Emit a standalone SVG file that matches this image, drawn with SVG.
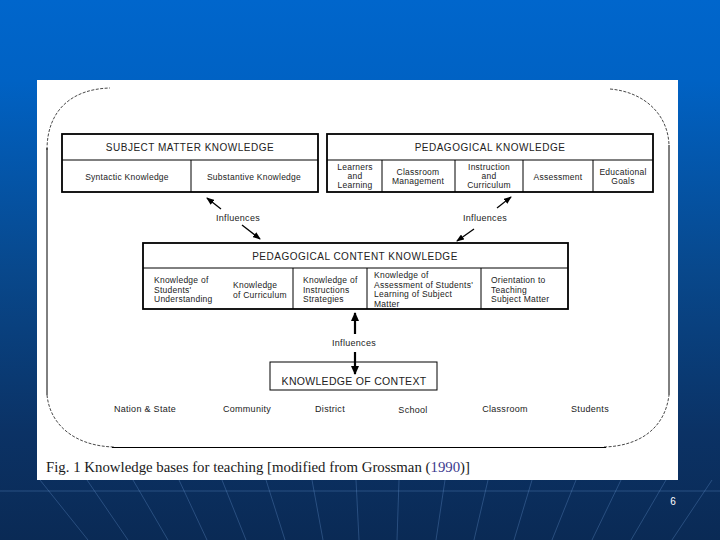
<svg xmlns="http://www.w3.org/2000/svg" width="720" height="540" viewBox="0 0 720 540">
<defs>
<linearGradient id="bg" x1="0" y1="0" x2="0" y2="1">
<stop offset="0" stop-color="#0066cc"/>
<stop offset="0.15" stop-color="#0062c4"/>
<stop offset="0.5" stop-color="#08488c"/>
<stop offset="0.8" stop-color="#0b3265"/>
<stop offset="1" stop-color="#0a2a55"/>
</linearGradient>
<marker id="ah" markerWidth="8" markerHeight="6" refX="7" refY="3" orient="auto" markerUnits="userSpaceOnUse">
<path d="M0,0 L8,3 L0,6 Z" fill="#000"/>
</marker>
<marker id="ahb" markerWidth="9" markerHeight="8" refX="8" refY="4" orient="auto" markerUnits="userSpaceOnUse">
<path d="M0,0 L9,4 L0,8 Z" fill="#000"/>
</marker>
<style>
.box{fill:#fff;stroke:#000;stroke-width:1.8}
.dv{stroke:#000;stroke-width:1;fill:none}
.t{font-family:"Liberation Sans",Arial,sans-serif;fill:#222}
.hd{font-size:10px;letter-spacing:0.5px;text-anchor:middle}
.cl{font-size:8.5px;letter-spacing:0.25px}
.cm{text-anchor:middle}
.lb{font-size:9px;letter-spacing:0.3px;text-anchor:middle}
.arc{fill:none;stroke:#333;stroke-width:0.9;stroke-dasharray:3 1.5}
.edge{fill:none;stroke:#000;stroke-width:1}
.con{stroke:#000;stroke-width:1.3;fill:none}
.conb{stroke:#000;stroke-width:2.2;fill:none}
.grid{stroke:#6fa0dc;stroke-opacity:0.3;stroke-width:1;fill:none}
</style>
</defs>
<rect x="0" y="0" width="720" height="540" fill="url(#bg)"/>
<g id="grid">
<path class="grid" d="M0,491 H720"/>
<path class="grid" d="M40,480 L88,540 M87,480 L128,540 M133,480 L168,540 M179,480 L207,540 M222,480 L246,540 M266,480 L285,540 M312,480 L323,540 M356,480 L359,540 M399,480 L397,540 M445,480 L436,540 M488,480 L474,540 M532,480 L514,540 M576,480 L552,540 M621,480 L592,540 M666,480 L631,540 M712,480 L672,540"/>
</g>
<rect x="37" y="80" width="641" height="400" fill="#fff"/>
<g id="outline">
<path class="arc" d="M47,150 C47,110 72,89 110,88"/>
<path class="arc" d="M610,89 C645,92 668,115 669,145"/>
<path class="edge" d="M47,148 V395"/>
<path class="edge" d="M669,145 V395"/>
<path class="arc" d="M47,395 C50,425 75,446 114,447"/>
<path class="arc" d="M604,447 C640,446 665,428 669,395"/>
<path class="edge" d="M112,447.5 H606"/>
</g>
<g id="subject-matter-knowledge">
<rect class="box" x="62" y="134" width="256" height="58"/>
<path class="dv" d="M62,160 H318 M191,160 V192"/>
<text class="t hd" x="190" y="151">SUBJECT MATTER KNOWLEDGE</text>
<text class="t cl cm" x="127" y="180">Syntactic Knowledge</text>
<text class="t cl cm" x="254" y="180">Substantive Knowledge</text>
</g>
<g id="pedagogical-knowledge">
<rect class="box" x="327" y="134" width="326" height="58"/>
<path class="dv" d="M327,160 H653 M382,160 V192 M455,160 V192 M523,160 V192 M593,160 V192"/>
<text class="t hd" x="490" y="151">PEDAGOGICAL KNOWLEDGE</text>
<text class="t cl cm" x="355" y="170">Learners<tspan x="355" dy="9">and</tspan><tspan x="355" dy="9">Learning</tspan></text>
<text class="t cl cm" x="418" y="175">Classroom<tspan x="418" dy="9">Management</tspan></text>
<text class="t cl cm" x="489" y="170">Instruction<tspan x="489" dy="9">and</tspan><tspan x="489" dy="9">Curriculum</tspan></text>
<text class="t cl cm" x="558" y="180">Assessment</text>
<text class="t cl cm" x="623" y="175">Educational<tspan x="623" dy="9">Goals</tspan></text>
</g>
<g id="pedagogical-content-knowledge">
<rect class="box" x="143" y="243" width="425" height="66"/>
<path class="dv" d="M143,268 H568 M293,268 V309 M367,268 V309 M481,268 V309"/>
<text class="t hd" x="355" y="260">PEDAGOGICAL CONTENT KNOWLEDGE</text>
<text class="t cl" x="154" y="283">Knowledge of<tspan x="154" dy="9.5">Students'</tspan><tspan x="154" dy="9.5">Understanding</tspan></text>
<text class="t cl" x="233" y="288">Knowledge<tspan x="233" dy="9.5">of Curriculum</tspan></text>
<text class="t cl" x="303" y="283">Knowledge of<tspan x="303" dy="9.5">Instructions</tspan><tspan x="303" dy="9.5">Strategies</tspan></text>
<text class="t cl" x="374" y="278">Knowledge of<tspan x="374" dy="9.5">Assessment of Students'</tspan><tspan x="374" dy="9.5">Learning of Subject</tspan><tspan x="374" dy="9.5">Matter</tspan></text>
<text class="t cl" x="491" y="283">Orientation to<tspan x="491" dy="9.5">Teaching</tspan><tspan x="491" dy="9.5">Subject Matter</tspan></text>
</g>
<g id="knowledge-of-context">
<rect x="270" y="362" width="167" height="28" fill="#fff" stroke="#000" stroke-width="1"/>
<text class="t" x="354" y="385" font-size="10.5" letter-spacing="0.3" text-anchor="middle">KNOWLEDGE OF CONTEXT</text>
</g>
<g id="connectors">
<path class="con" d="M221,209 L207,198" marker-end="url(#ah)"/>
<path class="con" d="M242,225 L260,239" marker-end="url(#ah)"/>
<path class="con" d="M497,208 L511,197" marker-end="url(#ah)"/>
<path class="con" d="M474,229 L457,241" marker-end="url(#ah)"/>
<path class="conb" d="M355,334 V313" marker-end="url(#ahb)"/>
<path class="conb" d="M355,352 V374" marker-end="url(#ahb)"/>
<text class="t lb" x="238" y="221">Influences</text>
<text class="t lb" x="485" y="221">Influences</text>
<text class="t lb" x="354" y="346">Influences</text>
</g>
<g id="context-levels">
<text class="t lb" x="145" y="412">Nation &amp; State</text>
<text class="t lb" x="247" y="412">Community</text>
<text class="t lb" x="330" y="412">District</text>
<text class="t lb" x="413" y="413">School</text>
<text class="t lb" x="505" y="412">Classroom</text>
<text class="t lb" x="590" y="412">Students</text>
</g>
<g id="caption">
<text x="46" y="472" font-family="'Liberation Serif','Times New Roman',serif" font-size="14" fill="#1a1a1a" textLength="424" lengthAdjust="spacingAndGlyphs">Fig. 1  Knowledge bases for teaching [modified from Grossman (<tspan fill="#3b3b8f">1990</tspan>)]</text>
</g>
<text x="673" y="505" font-family="'Liberation Sans',Arial,sans-serif" font-size="10" fill="#fff" text-anchor="middle">6</text>
</svg>
